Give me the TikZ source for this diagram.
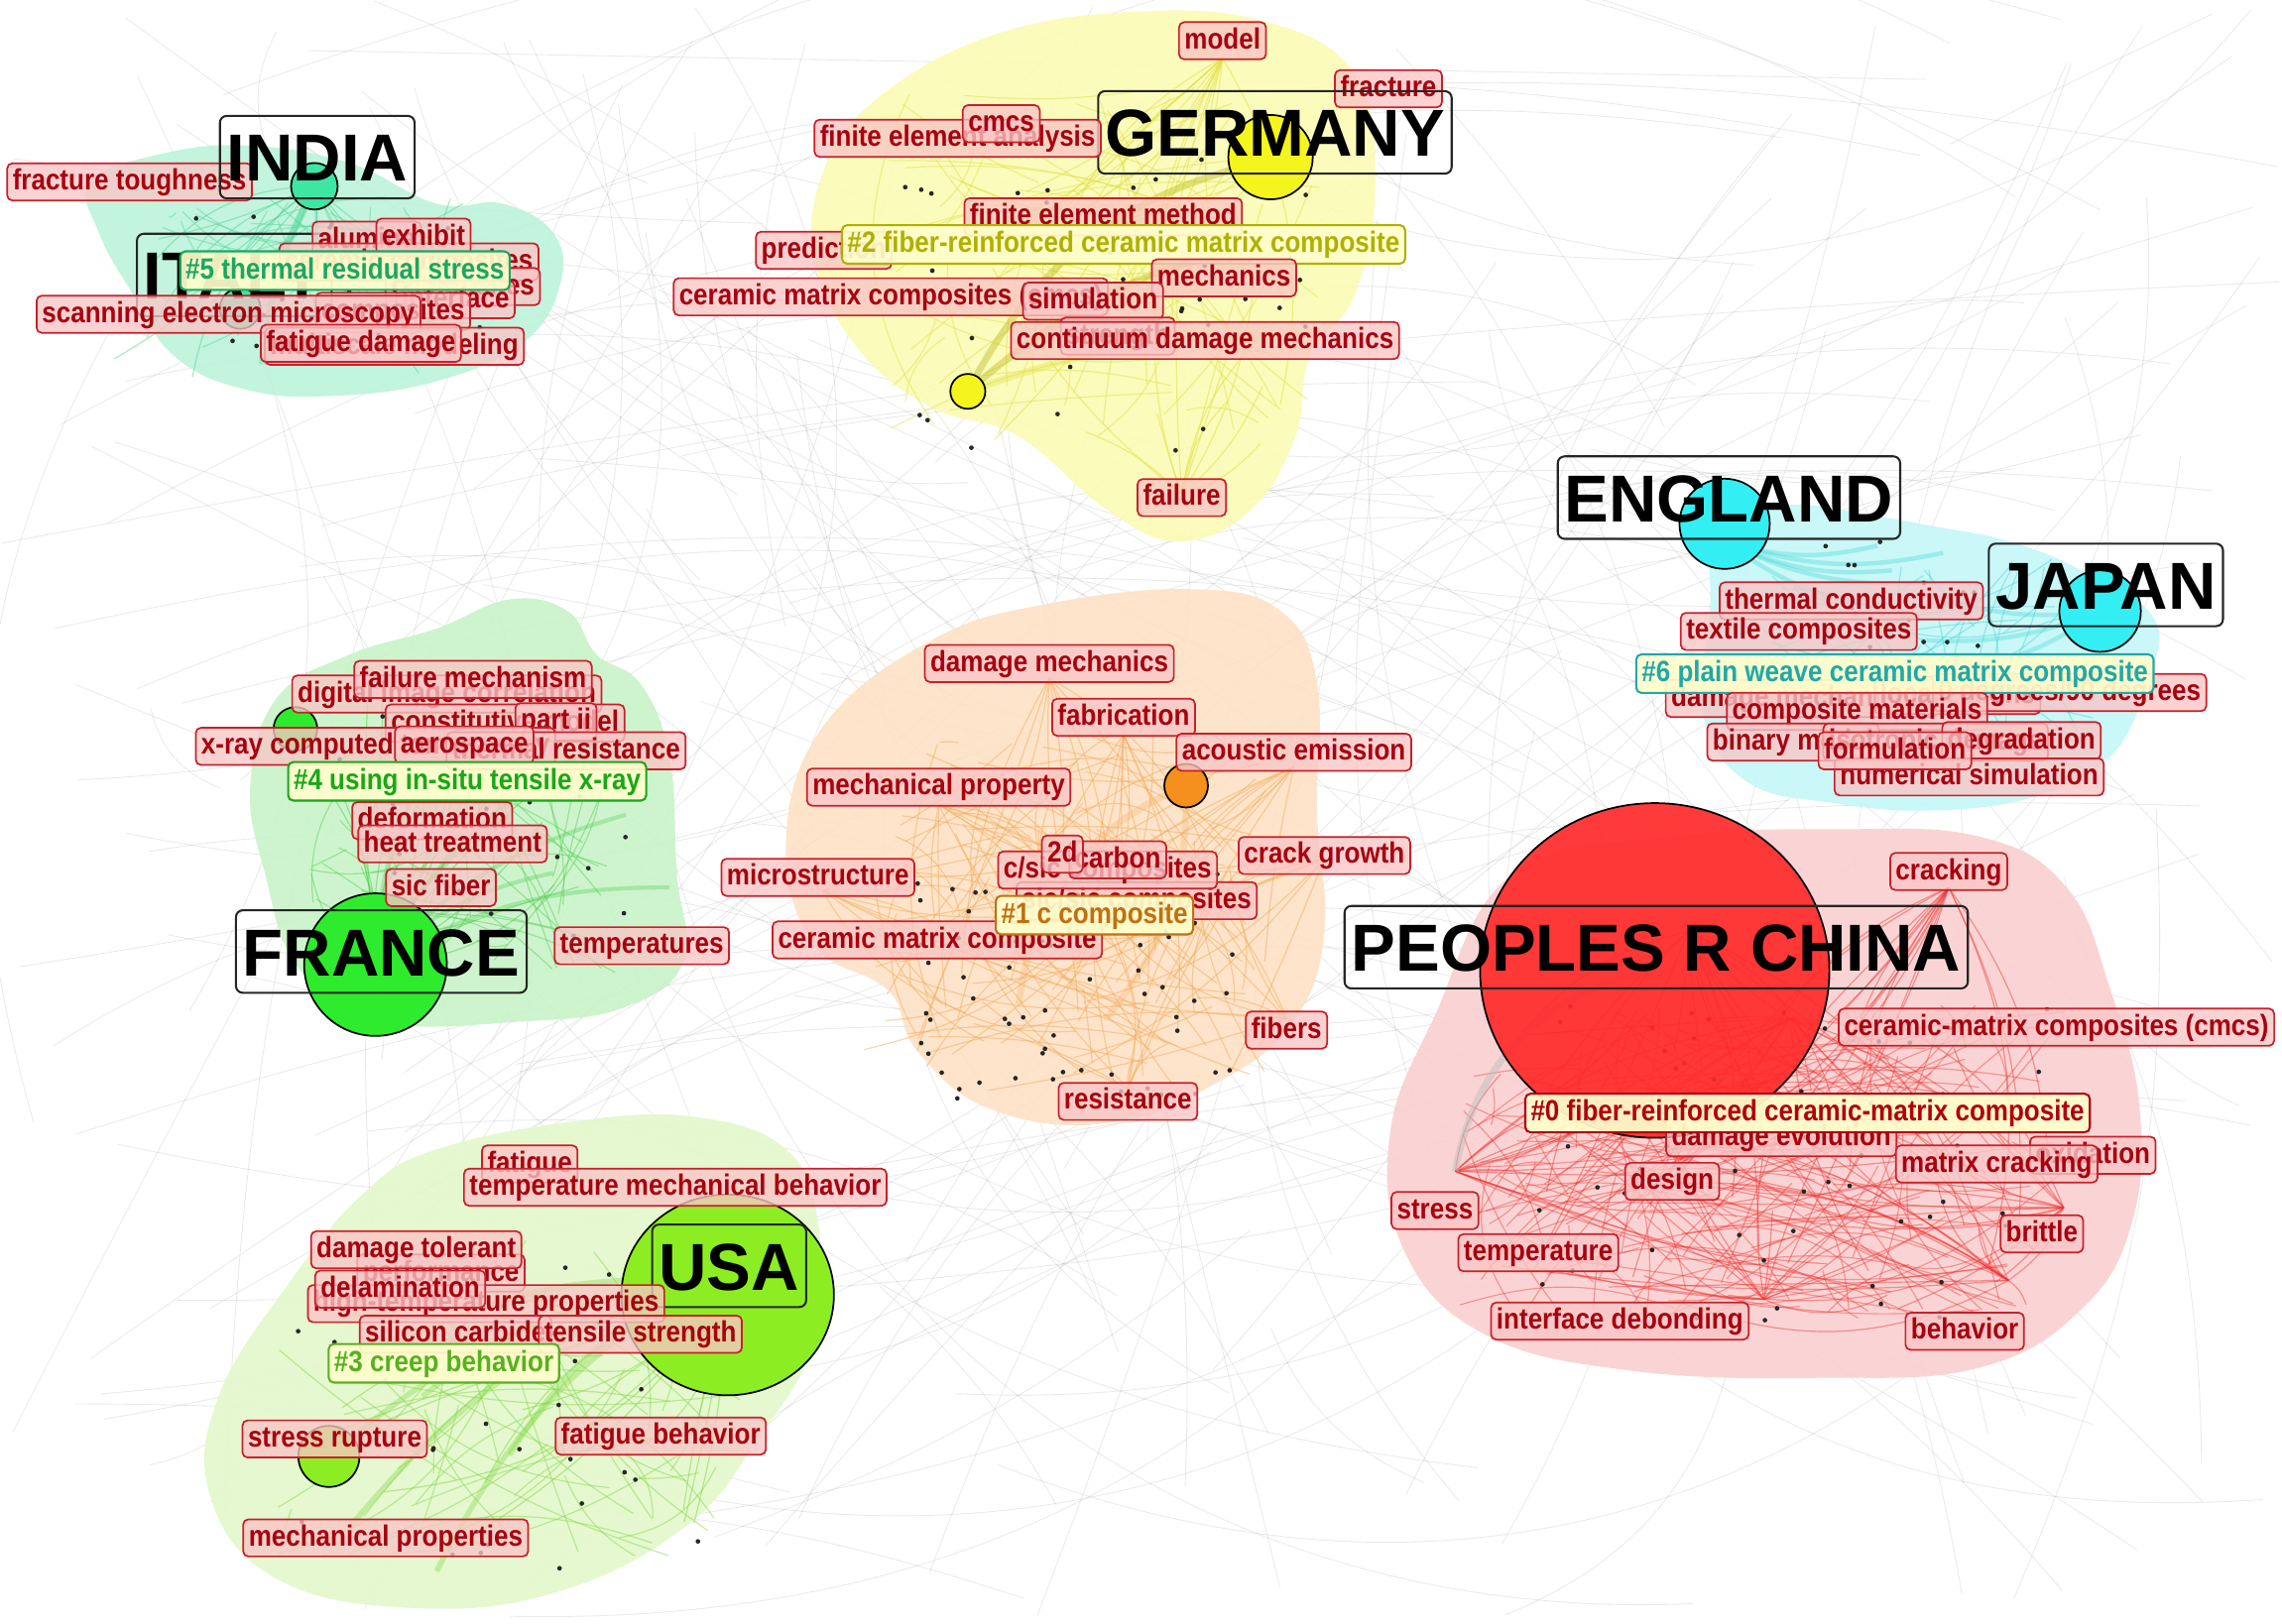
\documentclass[tikz,border=0pt]{standalone}
\usepackage{fontspec}
\setmainfont{Liberation Sans}
\newfontfamily\lblfont[FakeStretch=0.88]{Liberation Sans}
\definecolor{kwfill}{HTML}{F9C6C6}
\definecolor{kwdraw}{HTML}{C8202A}
\definecolor{kwtext}{HTML}{A8000F}
\definecolor{clfill}{HTML}{FFFFCC}
\definecolor{c5}{HTML}{18A860}
\definecolor{c2}{HTML}{B0B000}
\definecolor{c4}{HTML}{18A818}
\definecolor{c1}{HTML}{C07010}
\definecolor{c6}{HTML}{20A8A8}
\definecolor{c0}{HTML}{B00010}
\definecolor{c3}{HTML}{58B020}
\definecolor{bl5}{HTML}{BDF3DA}
\definecolor{bl2}{HTML}{FBFBB5}
\definecolor{bl4}{HTML}{C9F3C9}
\definecolor{bl1}{HTML}{FDE2C6}
\definecolor{bl6}{HTML}{C5F7F7}
\definecolor{bl0}{HTML}{FAD0D0}
\definecolor{bl3}{HTML}{E3F8CB}
\definecolor{n5}{HTML}{3DE6A3}
\definecolor{n2}{HTML}{F5F51E}
\definecolor{n4}{HTML}{2EEB2E}
\definecolor{n1}{HTML}{F5901E}
\definecolor{n6}{HTML}{33EEF2}
\definecolor{n0}{HTML}{FF2A2A}
\definecolor{n3}{HTML}{8CEE22}
\definecolor{e5}{HTML}{50D898}
\definecolor{e2}{HTML}{E0E040}
\definecolor{e4}{HTML}{50D050}
\definecolor{e1}{HTML}{F5A850}
\definecolor{e6}{HTML}{40D8D8}
\definecolor{e0}{HTML}{F03030}
\definecolor{e3}{HTML}{80D840}
\newcommand\hubedges[9]{%
 \foreach \k in {1,...,#8}{%
  \pgfmathsetmacro\xb{#4+#6*(2*rnd-1)}%
  \pgfmathsetmacro\yb{#5+#7*(2*rnd-1)}%
  \pgfmathsetmacro\bb{random(-25,25)}%
  \draw[#1, opacity=#9, line width=0.35pt] (#2,#3) to[bend left=\bb] (\xb,\yb);
 }}
\newcommand\cedges[7]{%
 \foreach \k in {1,...,#6}{%
  \pgfmathsetmacro\xa{#2+#4*(2*rnd-1)}%
  \pgfmathsetmacro\ya{#3+#5*(2*rnd-1)}%
  \pgfmathsetmacro\xb{#2+#4*(2*rnd-1)}%
  \pgfmathsetmacro\yb{#3+#5*(2*rnd-1)}%
  \pgfmathsetmacro\bb{random(-30,30)}%
  \draw[#1, opacity=#7, line width=0.35pt] (\xa,\ya) to[bend left=\bb] (\xb,\yb);
 }}
\newcommand\rdots[5]{%
 \foreach \k in {1,...,#5}{%
  \pgfmathsetmacro\xb{#1+#3*(2*rnd-1)}%
  \pgfmathsetmacro\yb{#2+#4*(2*rnd-1)}%
  \fill[black!85] (\xb,\yb) circle[radius=1.6];
 }}
\begin{document}
\begin{tikzpicture}[x=0.015cm,y=-0.015cm,
  kw/.style={draw=kwdraw, fill=kwfill, fill opacity=0.78, text opacity=1, text=kwtext,
    rounded corners=1.5pt, line width=0.5pt, inner xsep=1.6pt, inner ysep=1.2pt,
    text height=6.6pt, text depth=1.9pt, font=\lblfont\bfseries\fontsize{8.6pt}{9pt}\selectfont},
  cl/.style={draw=#1, text=#1, fill=clfill, fill opacity=0.92, text opacity=1,
    rounded corners=1.5pt, line width=0.6pt, inner xsep=1.6pt, inner ysep=1.4pt,
    text height=6.6pt, text depth=1.9pt, font=\lblfont\bfseries\fontsize{8.6pt}{9pt}\selectfont},
  cty/.style={draw=black!85, text=black, rounded corners=2pt, line width=0.6pt,
    inner xsep=2pt, inner ysep=5pt, text height=14.2pt, text depth=0pt,
    font=\bfseries\fontsize{19.5pt}{20pt}\selectfont},
  hubc/.style={draw=black, line width=0.5pt, fill=#1},
  thick edge/.style={draw=#1, opacity=0.35, line width=2pt}
]
\useasboundingbox (0,0) rectangle (1568,1116);
\fill[white] (0,0) rectangle (1568,1116);
\pgfmathsetseed{4242}
% faint background links
\foreach \k in {1,...,190}{%
  \pgfmathsetmacro\xa{1568*rnd}\pgfmathsetmacro\ya{1116*rnd}%
  \pgfmathsetmacro\xb{1568*rnd}\pgfmathsetmacro\yb{1116*rnd}%
  \pgfmathsetmacro\bb{random(-40,40)}%
  \draw[black!40, opacity=0.2, line width=0.25pt] (\xa,\ya) to[bend left=\bb] (\xb,\yb);}

% ---------- cluster hulls ----------
\fill[bl5, opacity=0.9] plot[smooth cycle, tension=0.7] coordinates {(62,125) (110,106) (170,100) (240,112) (300,140) (345,140) (380,160) (385,195) (360,235) (300,262) (230,272) (170,268) (120,245) (90,200) (68,160)};
\fill[bl2, opacity=0.9] plot[smooth cycle, tension=0.7] coordinates {(600,70) (680,25) (780,8) (870,15) (930,50) (945,120) (932,200) (900,245) (890,300) (860,350) (810,372) (760,350) (700,300) (640,280) (590,240) (560,180) (565,120)};
\fill[bl4, opacity=0.9] plot[smooth cycle, tension=0.7] coordinates {(240,450) (300,432) (350,412) (390,420) (410,450) (440,470) (460,520) (465,600) (470,660) (430,692) (360,702) (260,702) (205,665) (182,600) (172,540) (190,480)};
\fill[bl1, opacity=0.9] plot[smooth cycle, tension=0.7] coordinates {(640,440) (720,415) (820,405) (880,420) (905,470) (905,560) (910,640) (890,700) (840,742) (760,772) (680,762) (630,722) (610,680) (560,650) (540,580) (565,500)};
\fill[bl6, opacity=0.9] plot[smooth cycle, tension=0.7] coordinates {(1180,362) (1230,347) (1290,355) (1330,362) (1380,372) (1430,392) (1480,425) (1475,470) (1450,520) (1400,547) (1330,557) (1260,552) (1200,537) (1170,490) (1175,420)};
\fill[bl0, opacity=0.9] plot[smooth cycle, tension=0.7] coordinates {(1040,600) (1150,575) (1260,570) (1360,575) (1420,610) (1450,680) (1470,760) (1465,840) (1430,900) (1360,940) (1250,947) (1120,942) (1020,917) (965,860) (955,780) (985,700)};
\fill[bl3, opacity=0.9] plot[smooth cycle, tension=0.7] coordinates {(300,790) (400,770) (480,768) (540,790) (562,840) (560,920) (520,990) (470,1050) (380,1095) (280,1105) (190,1085) (145,1030) (150,960) (200,880) (250,820)};

% ---------- links inside clusters ----------
\cedges{e5}{220}{190}{110}{55}{40}{0.45}
\hubedges{e5}{216}{128}{200}{200}{130}{60}{15}{0.5}
\cedges{e2}{760}{180}{150}{120}{60}{0.45}
\hubedges{e2}{840}{40}{760}{200}{150}{110}{14}{0.5}
\hubedges{e2}{812}{340}{780}{230}{120}{90}{12}{0.5}
\cedges{e4}{320}{570}{110}{100}{45}{0.45}
\hubedges{e4}{258}{663}{330}{540}{110}{80}{15}{0.5}
\cedges{e1}{730}{620}{140}{120}{70}{0.45}
\foreach \hx/\hy in {721/466, 772/505, 889/527, 645/553, 565/612, 775/748, 884/700, 910/590}{%
  \hubedges{e1}{\hx}{\hy}{750}{660}{120}{90}{9}{0.45}}
\cedges{e6}{1320}{450}{120}{70}{40}{0.45}
\cedges{e0}{1210}{800}{210}{110}{120}{0.4}
\foreach \hx/\hy in {1000/805, 1212/893, 1339/610, 1380/880, 1418/830, 1230/700, 1160/640}{%
  \hubedges{e0}{\hx}{\hy}{1220}{800}{190}{100}{16}{0.45}}
\cedges{e3}{350}{960}{160}{110}{50}{0.45}
\hubedges{e3}{500}{889}{330}{980}{150}{90}{14}{0.5}

% thick hub links
\draw[thick edge=e5] (216,128) to[bend left=8] (165,212);
\draw[thick edge=e5] (216,128) to[bend right=10] (180,250);
\draw[thick edge=c2] (665,269) to[bend left=25] (873,110);
\draw[thick edge=c2] (665,269) to[bend left=15] (880,165);
\draw[thick edge=e2] (665,269) to[bend left=10] (900,230);
\foreach \tx/\ty in {300/520, 350/560, 395/520, 430/560, 460/610, 380/600}{%
  \draw[thick edge=e4, line width=1.2pt] (258,663) to[bend left=15] (\tx,\ty);}
\draw[thick edge=e1, opacity=0.25] (815,540) to[bend right=30] (700,690);
\draw[thick edge=e1, opacity=0.25] (815,540) to[bend left=20] (760,700);
\foreach \tx/\ty in {1290/375, 1300/392, 1325/400, 1335/380, 1310/420}{%
  \draw[thick edge=e6, line width=1.3pt] (1185,372) to[bend right=15] (\tx,\ty);}
\foreach \tx/\ty in {1330/410, 1320/440, 1350/460}{%
  \draw[thick edge=e6, line width=1.3pt] (1443,420) to[bend left=12] (\tx,\ty);}
\foreach \tx/\ty in {226/1001, 260/930, 240/1050, 300/1080, 350/1000, 290/960}{%
  \draw[thick edge=e3, line width=1.6pt] (480,880) to[bend right=15] (\tx,\ty);}
\draw[black!25, opacity=0.5, line width=2pt] (1137,667) to[bend right=35] (1000,805);

% dots
\rdots{230}{190}{100}{55}{25}
\rdots{760}{200}{140}{110}{35}
\rdots{330}{560}{100}{90}{22}
\rdots{740}{680}{110}{80}{70}
\rdots{1300}{410}{60}{40}{14}
\rdots{1230}{800}{180}{110}{60}
\rdots{350}{970}{150}{110}{35}

% ---------- hub circles ----------
\draw[hubc=n5] (216,128) circle[radius=16];
\draw[hubc=n5] (165,212) circle[radius=14];
\draw[hubc=n2] (873,108) circle[radius=29];
\draw[hubc=n2] (665,269) circle[radius=12];
\draw[hubc=n4] (258,663) circle[radius=49];
\draw[hubc=n4] (203,501) circle[radius=15];
\draw[hubc=n1] (815,540) circle[radius=15];
\draw[hubc=n6] (1185,360) circle[radius=31];
\draw[hubc=n6] (1443,420) circle[radius=28];
\draw[hubc=n0, fill opacity=0.92] (1137,667) ellipse[x radius=120, y radius=115];
\draw[hubc=n3] (500,890) ellipse[x radius=73, y radius=69];
\draw[hubc=n3] (226,1001) circle[radius=21];

% ---------- cluster #5 (India / Italy) ----------
\node[cty] (italy) at (161,189) {ITALY};
\node[kw] (alumina) at (252,165) {alumina};
\node[kw] (cercomp) at (281,180) {ceramic composites};
\node[kw] (comp5a) at (318,197) {composites};
\node[kw] (exhibit) at (291,163) {exhibit};
\node[kw] (interface5) at (313,206) {interface};
\node[kw] (comp5b) at (270,214) {composites};
\node[cl=c5] (l5) at (237,186) {\#5 thermal residual stress};
\node[kw] (sem) at (157,216) {scanning electron microscopy};
\node[kw] (msm) at (271,238) {multiscale modeling};
\node[kw] (fatdam) at (248,236) {fatigue damage};
\node[kw] (fractough) at (89,125) {fracture toughness};
\node[cty] (india) at (218,108) {INDIA};

% ---------- cluster #2 (Germany) ----------
\node[kw] (model) at (840,28) {model};
\node[kw] (fracture) at (954,61) {fracture};
\node[cty] (germany) at (876,91) {GERMANY};
\node[kw] (fea) at (658,95) {finite element analysis};
\node[kw] (cmcs2) at (688,85) {cmcs};
\node[kw] (fem) at (758,149) {finite element method};
\node[kw] (predict) at (566,172) {prediction};
\node[cl=c2] (l2) at (772,168) {\#2 fiber-reinforced ceramic matrix composite};
\node[kw] (mech) at (841,191) {mechanics};
\node[kw] (cmc2) at (612,204) {ceramic matrix composites (cmcs)};
\node[kw] (simul) at (751,207) {simulation};
\node[kw] (strength) at (768,231) {strength};
\node[kw] (cdm) at (828,234) {continuum damage mechanics};
\node[kw] (failure) at (812,342) {failure};

% ---------- cluster #4 (France) ----------
\node[kw] (dic) at (307,477) {digital image correlation};
\node[kw] (failmech) at (325,467) {failure mechanism};
\node[kw] (constmod) at (347,497) {constitutive model};
\node[kw] (partii) at (382,496) {part ii};
\node[kw] (xray) at (258,513) {x-ray computed tomography};
\node[kw] (thermres) at (389,516) {thermal resistance};
\node[kw] (aero) at (319,512) {aerospace};
\node[cl=c4] (l4) at (321,537) {\#4 using in-situ tensile x-ray};
\node[kw] (deform) at (297,564) {deformation};
\node[kw] (heat) at (311,580) {heat treatment};
\node[kw] (sicf) at (303,610) {sic fiber};
\node[kw] (temps) at (441,650) {temperatures};
\node[cty] (france) at (262,654) {FRANCE};

% ---------- cluster #1 (centre) ----------
\node[kw] (dammech) at (721,456) {damage mechanics};
\node[kw] (fabric) at (772,493) {fabrication};
\node[kw] (acoust) at (889,517) {acoustic emission};
\node[kw] (mechprop) at (645,541) {mechanical property};
\node[kw] (micro) at (562,603) {microstructure};
\node[kw] (sicsic) at (781,619) {sic/sic composites};
\node[kw] (csic) at (761,598) {c/sic composites};
\node[kw] (carbon) at (768,591) {carbon};
\node[kw] (twod) at (730,587) {2d};
\node[kw] (crackg) at (910,588) {crack growth};
\node[kw] (cmc1) at (644,646) {ceramic matrix composite};
\node[cl=c1] (l1) at (752,629) {\#1 c composite};
\node[kw] (fibers) at (884,708) {fibers};
\node[kw] (resist) at (775,757) {resistance};

% ---------- cluster #6 (England / Japan) ----------
\node[cty] (england) at (1188,342) {ENGLAND};
\node[cty] (japan) at (1447,402) {JAPAN};
\node[kw] (damechs) at (1238,480) {damage mechanisms};
\node[kw] (localiz) at (1345,478) {localizations};
\node[kw] (degrees) at (1422,476) {0 degrees/90 degrees};
\node[kw] (thermc) at (1272,413) {thermal conductivity};
\node[kw] (textile) at (1236,434) {textile composites};
\node[cl=c6] (l6) at (1302,463) {\#6 plain weave ceramic matrix composite};
\node[kw] (compmat) at (1276,489) {composite materials};
\node[kw] (binary) at (1232,510) {binary model};
\node[kw] (isodam) at (1330,510) {isotropic damage};
\node[kw] (degrad) at (1389,509) {degradation};
\node[kw] (numsim) at (1353,534) {numerical simulation};
\node[kw] (formul) at (1302,516) {formulation};

% ---------- cluster #0 (China) ----------
\node[cty] (china) at (1138,651) {PEOPLES R CHINA};
\node[kw] (cracking) at (1339,599) {cracking};
\node[kw] (cmcs0) at (1413,706) {ceramic-matrix composites (cmcs)};
\node[kw] (damevo) at (1224,782) {damage evolution};
\node[cl=c0] (l0) at (1242,765) {\#0 fiber-reinforced ceramic-matrix composite};
\node[kw] (oxid) at (1438,794) {oxidation};
\node[kw] (matcrack) at (1372,800) {matrix cracking};
\node[kw] (design) at (1149,812) {design};
\node[kw] (stress) at (986,832) {stress};
\node[kw] (temperature) at (1057,861) {temperature};
\node[kw] (brittle) at (1403,848) {brittle};
\node[kw] (intdeb) at (1113,908) {interface debonding};
\node[kw] (behavior) at (1350,915) {behavior};

% ---------- cluster #3 (USA) ----------
\node[cty] (usa) at (501,870) {USA};
\node[kw] (fatigue) at (364,800) {fatigue};
\node[kw] (tmb) at (464,816) {temperature mechanical behavior};
\node[kw] (perf) at (303,875) {performance};
\node[kw] (damtol) at (286,859) {damage tolerant};
\node[kw] (htp) at (334,896) {high-temperature properties};
\node[kw] (delam) at (275,886) {delamination};
\node[kw] (sicarb) at (313,917) {silicon carbide};
\node[kw] (tensile) at (440,917) {tensile strength};
\node[cl=c3] (l3) at (305,937) {\#3 creep behavior};
\node[kw] (stressrup) at (230,989) {stress rupture};
\node[kw] (fatbeh) at (454,987) {fatigue behavior};
\node[kw] (mechprops) at (265,1057) {mechanical properties};
\end{tikzpicture}
\end{document}
